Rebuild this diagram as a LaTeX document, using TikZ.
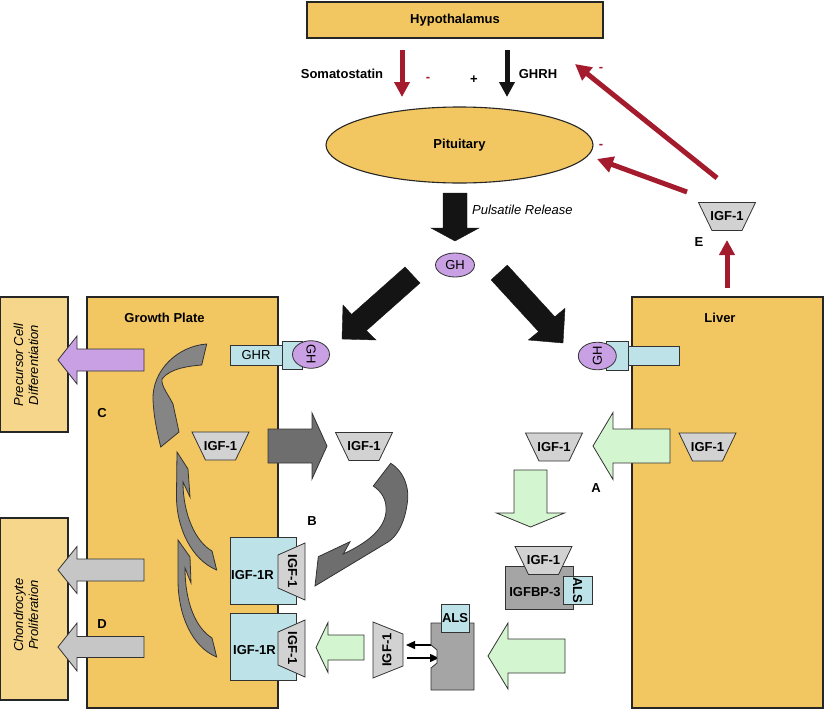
\documentclass[tikz,border=0pt]{standalone}
\usepackage{fontspec}
\setmainfont{Liberation Sans}
\usetikzlibrary{arrows.meta,shapes.geometric}
\definecolor{gold}{HTML}{F2C661}
\definecolor{lgold}{HTML}{F6D68A}
\definecolor{lav}{HTML}{C9A0E4}
\definecolor{lblue}{HTML}{BDE3E8}
\definecolor{lgreen}{HTML}{D3F5CF}
\definecolor{dgray}{HTML}{6E6E6E}
\definecolor{cgray}{HTML}{858585}
\definecolor{mgray}{HTML}{A5A5A5}
\definecolor{lgray}{HTML}{D2D2D2}
\definecolor{agray}{HTML}{C6C6C6}
\definecolor{dred}{HTML}{A31B2C}
\definecolor{nblack}{HTML}{141414}
\tikzset{
  tb/.style={font=\fontsize{13}{15}\selectfont\bfseries, inner sep=0pt},
  tr/.style={font=\fontsize{13}{15}\selectfont, inner sep=0pt},
  ti/.style={font=\fontsize{13}{15}\selectfont\itshape, inner sep=0pt},
  outl/.style={draw=black!85, line width=1.1pt},
  thin/.style={draw=black!80, line width=0.8pt},
  igfshape/.style={thin, fill=lgray},
  redarr/.style={draw=dred, line width=5pt, -{Triangle[length=16pt,width=16pt]}},
  blkarr/.style={draw=nblack, line width=5pt, -{Triangle[length=15pt,width=15pt]}},
  smallarr/.style={draw=black, line width=1.4pt, -{Triangle[length=9pt,width=8pt]}}
}
% horizontal block arrow: style, tail x, head base x, tip x, centre y, shaft half, head half
\newcommand\harrow[7]{\draw[#1] (#2,#5-#6) -- (#3,#5-#6) -- (#3,#5-#7) -- (#4,#5) -- (#3,#5+#7) -- (#3,#5+#6) -- (#2,#5+#6) -- cycle;}
% vertical block arrow: style, tail y, head base y, tip y, centre x, shaft half, head half
\newcommand\varrow[7]{\draw[#1] (#5-#6,#2) -- (#5-#6,#3) -- (#5-#7,#3) -- (#5,#4) -- (#5+#7,#3) -- (#5+#6,#3) -- (#5+#6,#2) -- cycle;}
% IGF-1 trapezoids
\newcommand\trapdown[3]{\draw[igfshape] (#1-28.5,#2-14) -- (#1+28.5,#2-14) -- (#1+15,#2+14) -- (#1-15,#2+14) -- cycle;
  \node[tb] (#3) at (#1,#2) {IGF-1};}
\newcommand\trapright[3]{\draw[igfshape] (#1-13.5,#2-16.5) -- (#1+13.5,#2-28.5) -- (#1+13.5,#2+28.5) -- (#1-13.5,#2+16.5) -- cycle;
  \node[tb, rotate=-90] (#3) at (#1+1,#2) {IGF-1};}
\newcommand\trapleft[3]{\draw[igfshape] (#1-15,#2-28) -- (#1+15,#2-16) -- (#1+15,#2+16) -- (#1-15,#2+28) -- cycle;
  \node[tb, rotate=90] (#3) at (#1-1,#2) {IGF-1};}

\begin{document}
\begin{tikzpicture}[x=1pt,y=-1pt]
\useasboundingbox (0,0) rectangle (825,710);

% ---------- top ----------
\node[outl, fill=gold, minimum width=296pt, minimum height=36pt, tb] (hyp) at (455,20) {Hypothalamus};
\node[outl, fill=gold, ellipse, minimum width=267pt, minimum height=76pt, tb] (pit) at (459.5,145) {Pituitary};
\coordinate (somS) at (402,50); \coordinate (somE) at (402,97);
\coordinate (ghrhS) at (507,50); \coordinate (ghrhE) at (507,97);
\draw[redarr, -{Triangle[length=15pt,width=15pt]}] (somS) -- (somE);
\draw[blkarr] (ghrhS) -- (ghrhE);
\node[tb] (som) at (342,74) {Somatostatin};
\node[tb] (ghrh) at (538,74) {GHRH};
\node[tb, text=dred] (m1) at (428,79) {-};
\node[tb] (p1) at (474,80) {+};
\node[tb, text=dred] (m2) at (601,69) {-};
\node[tb, text=dred] (m3) at (601,146) {-};

% pulsatile release
\draw[fill=nblack, draw=nblack] (443,193) -- (467,193) -- (467,228) -- (479,228) -- (455,241) -- (431,228) -- (443,228) -- cycle;
\node[ti, anchor=west] (puls) at (472,210) {Pulsatile Release};
\node[thin, ellipse, fill=lav, minimum width=39pt, minimum height=24pt, tr] (gh) at (455,265) {GH};

% diagonal black arrows
\draw[fill=nblack, draw=nblack] (405,267) -- (351.6,314.4) -- (343,305) -- (342,339) -- (376,340) -- (366.4,330.6) -- (420,283) -- cycle;
\draw[fill=nblack, draw=nblack] (507.3,265.1) -- (554.8,316.8) -- (565,308.3) -- (563,343) -- (528.3,340) -- (538.6,331.6) -- (491.1,279.9) -- cycle;

% ---------- E feedback ----------
\trapdown{727}{216.5}{igfE}
\node[tb] (E) at (699,242) {E};
\coordinate (eUpS) at (727,288); \coordinate (eUpE) at (727,240);
\coordinate (ePitS) at (687,192); \coordinate (ePitE) at (597,159);
\coordinate (eHypS) at (717,178); \coordinate (eHypE) at (575,64);
\draw[redarr, -{Triangle[length=15pt,width=15pt]}] (eUpS) -- (eUpE);
\draw[redarr] (ePitS) -- (ePitE);
\draw[redarr] (eHypS) -- (eHypE);

% ---------- left panels ----------
\draw[outl, fill=lgold] (0,297) rectangle (68,432);
\node[ti, rotate=90, align=center] (prec) at (26,365) {Precursor Cell\\Differentiation};
\draw[outl, fill=lgold] (0,518) rectangle (68,700);
\node[ti, rotate=90, align=center] (chon) at (26,615) {Chondrocyte\\Proliferation};
\draw[outl, fill=gold] (87,297) rectangle (278,708);
\node[tb] (gp) at (164.5,318) {Growth Plate};
\node[tb] (C) at (102,413) {C};
\node[tb] (D) at (102,624) {D};

% liver
\draw[outl, fill=gold] (632,297) rectangle (823,708);
\node[tb] (liver) at (720,318) {Liver};

% purple & gray arrows to left panels
\harrow{thin, fill=lav}{144}{77}{58}{360}{11}{24}
\harrow{thin, fill=agray}{144}{77}{58}{570}{11}{23.5}
\harrow{thin, fill=agray}{144}{77}{58}{647}{10.5}{24}

% curved arrows C
\draw[thin, fill=cgray] (206.7,344) .. controls (178,346) and (152,370) .. (153,400)
   .. controls (154,420) and (158,435) .. (160.7,447) -- (179,432) -- (173,404)
   .. controls (168,394) and (161,386) .. (162,379) .. controls (170,368) and (190,366) .. (201.7,365) -- cycle;
\draw[thin, fill=cgray] (177,452) -- (188,469) -- (190,497) -- (183,482)
   .. controls (183,515) and (196,542) .. (212,551) -- (216.7,570)
   .. controls (192,560) and (176,528) .. (176.5,495) -- cycle;
\draw[thin, fill=cgray] (178,540) -- (190,557) -- (191,583) -- (185,568)
   .. controls (185,603) and (196,628) .. (212,638) -- (216.7,657)
   .. controls (192,647) and (178,615) .. (178,580) -- cycle;

% GHR in growth plate
\draw[thin, fill=lblue] (230,345) rectangle (282,365);
\node[tr] (ghr) at (256,355) {GHR};
\draw[thin, fill=lblue] (282,341) rectangle (302,369);
\node[thin, ellipse, fill=lav, minimum width=26pt, minimum height=37pt, tr, rotate=-90] (ghL) at (311,354.5) {GH};

% IGF-1 in growth plate and outgoing arrow
\trapdown{220.5}{446}{igfGP}
\harrow{thin, fill=dgray}{268}{312}{327}{446}{17}{33}
\trapdown{364}{446.5}{igfB}

% curved arrow B
\draw[thin, fill=dgray] (390.7,463.3) .. controls (405,472) and (410,490) .. (407,505)
   .. controls (404,525) and (396,537) .. (388,542) -- (315,586) -- (318.3,556.7) -- (350,541.7) -- (343.3,554)
   .. controls (362,545) and (384,532) .. (386,512) .. controls (387,500) and (382,492) .. (373.3,486) -- cycle;
\node[tb] (B) at (312,521) {B};

% IGF-1R boxes
\draw[thin, fill=lblue] (230,537) rectangle (296,604);
\node[tb] (r1) at (252.5,575) {IGF-1R};
\trapright{291.5}{571.5}{igfR1}
\draw[thin, fill=lblue] (230,613) rectangle (296,680);
\node[tb] (r2) at (254.5,650) {IGF-1R};
\trapright{291.5}{648.5}{igfR2}

% bottom free IGF-1 and green arrow
\harrow{thin, fill=lgreen}{364}{328}{316}{647.5}{12.5}{25}
\trapleft{388}{650}{igfF}
\coordinate (saL) at (406,645); \coordinate (saR) at (438,645);
\coordinate (sbL) at (407,658); \coordinate (sbR) at (439,658);
\draw[smallarr] (saR) -- (saL);
\draw[smallarr] (sbL) -- (sbR);

% IGFBP-3 block with notch and ALS
\draw[thin, fill=mgray] (431,623) -- (474,623) -- (474,690) -- (431,690) -- (431,668) -- (437,663) -- (437,650) -- (431,645) -- cycle;
\draw[thin, fill=lblue] (441,604) rectangle (469,632);
\node[tb] (als1) at (455,618) {ALS};
\harrow{thin, fill=lgreen}{565}{508}{488}{656}{17}{33}

% IGFBP-3 complex
\draw[thin, fill=mgray] (505,566) rectangle (573,609);
\node[tb] (bp3) at (535,592) {IGFBP-3};
\draw[thin, fill=lblue] (563,576) rectangle (592,604);
\node[tb, rotate=-90] (als2) at (577.5,590) {ALS};
\trapdown{543.5}{560.5}{igfBP}

% liver side
\varrow{thin, fill=lgreen}{470}{513}{527}{530.5}{16.5}{34}
\trapdown{554}{447}{igfA}
\harrow{thin, fill=lgreen}{670}{613}{593}{446}{17}{33.5}
\node[tb] (A) at (596,488) {A};
\trapdown{707.5}{447}{igfL}
\draw[thin, fill=lblue] (628,346) rectangle (679,365);
\draw[thin, fill=lblue] (606,341) rectangle (628,370);
\node[thin, ellipse, fill=lav, minimum width=27pt, minimum height=38pt, tr, rotate=90] (ghR) at (597.3,356) {GH};
\end{tikzpicture}
\end{document}
